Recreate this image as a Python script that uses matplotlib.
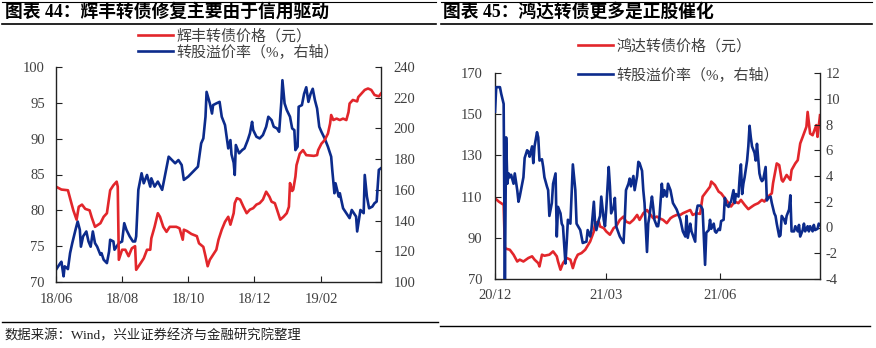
import pandas as pd
import matplotlib
matplotlib.use('Agg')
import matplotlib.pyplot as plt
import matplotlib.dates as mdates
from matplotlib.lines import Line2D

plt.rcParams['font.family'] = ['Liberation Serif', 'Noto Sans CJK SC']
plt.rcParams['axes.unicode_minus'] = False

RED = '#E2262B'
BLUE = '#0C2B8C'
GREY = '#404040'

# ---- chart 44: day offsets from 2018-06-01 ----
left_start = '2018-06-01'
left_end = '2019-03-28'
left_red_days = [0, 5, 11, 16, 19, 21, 24, 27, 31, 33, 36, 41, 44, 47, 50, 53, 56, 57, 58, 61,
                 64, 67, 70, 73, 74, 78, 81, 84, 87, 88, 91, 94, 96, 99, 102, 105, 111, 114, 117, 118,
                 121, 125, 130, 132, 136, 138, 140, 142, 145, 148, 150, 153, 156, 159, 161, 164, 165, 167, 170, 173,
                 176, 179, 182, 185, 188, 191, 194, 197, 199, 202, 204, 207, 210, 213, 215, 216, 218, 219, 221, 222,
                 225, 228, 231, 238, 241, 242, 245, 248, 251, 253, 254, 256, 259, 262, 265, 268, 270, 271, 274, 278,
                 279, 282, 285, 288, 291, 294, 298, 300]
left_red = [83.3, 82.9, 82.8, 80.0, 78.7, 80.5, 80.8, 80.2, 80.0, 79.0, 77.7, 78.2, 79.1, 79.6, 82.8, 83.5, 84.0, 83.3, 73.1, 74.5,
            74.5, 73.6, 74.7, 75.0, 71.7, 72.6, 73.3, 74.5, 74.5, 76.1, 77.7, 79.6, 79.1, 77.7, 77.0, 77.7, 77.7, 77.5, 75.9, 77.3,
            77.1, 76.7, 76.4, 75.4, 74.9, 73.6, 72.2, 73.1, 73.8, 74.5, 75.9, 77.3, 78.4, 79.1, 78.0, 79.6, 81.0, 81.7, 81.5, 80.5,
            79.6, 80.1, 80.3, 80.8, 81.0, 81.5, 82.6, 81.9, 81.2, 81.0, 80.1, 78.7, 79.1, 79.6, 80.5, 83.8, 82.7, 82.9, 84.7, 86.3,
            87.9, 88.4, 87.7, 87.6, 87.7, 88.4, 89.3, 89.8, 90.7, 92.1, 93.3, 92.6, 92.8, 92.6, 92.8, 92.6, 93.7, 94.9, 95.4, 95.2,
            95.8, 96.3, 96.8, 97.0, 96.8, 96.1, 95.9, 96.3]
left_blue_days = [0, 2, 4, 5, 7, 8, 10, 11, 13, 15, 18, 20, 22, 23, 25, 28, 30, 32, 34, 36,
                  38, 41, 42, 44, 47, 49, 50, 53, 54, 58, 61, 63, 65, 68, 71, 73, 74, 76, 79, 81,
                  84, 87, 88, 91, 94, 98, 101, 104, 107, 110, 113, 116, 118, 122, 125, 128, 131, 134, 136, 138,
                  139, 142, 144, 145, 148, 151, 153, 156, 158, 159, 161, 162, 164, 165, 166, 169, 172, 174, 177, 179,
                  181, 182, 185, 188, 191, 194, 196, 199, 201, 204, 206, 208, 209, 211, 213, 216, 218, 220, 221, 223,
                  224, 227, 229, 231, 233, 235, 237, 239, 241, 243, 245, 248, 251, 254, 255, 257, 258, 261, 262, 264,
                  265, 268, 271, 273, 275, 277, 278, 281, 284, 285, 287, 289, 292, 294, 296, 298, 300]
left_blue = [108.0, 110.2, 112.3, 113.2, 103.7, 110.2, 109.1, 108.4, 118.8, 125.3, 134.0, 139.4, 134.0, 123.0, 129.7, 132.9, 126.4, 123.0, 132.9, 125.3,
             123.0, 117.7, 118.8, 114.5, 112.3, 119.9, 127.5, 126.4, 121.0, 125.3, 126.4, 138.3, 134.0, 129.7, 126.4, 126.4, 129.7, 160.0, 170.8, 164.3,
             169.7, 162.1, 167.5, 162.1, 165.4, 160.0, 170.8, 181.6, 179.4, 177.3, 179.4, 176.2, 166.5, 168.6, 170.8, 173.0, 175.1, 190.3, 193.5, 207.6,
             223.8, 216.3, 209.7, 215.2, 216.3, 217.3, 207.6, 202.2, 192.4, 187.0, 192.4, 183.1, 177.7, 169.7, 189.2, 183.8, 186.0, 187.0, 192.4, 196.8,
             204.3, 199.0, 194.6, 193.5, 195.7, 201.1, 207.6, 205.4, 201.1, 200.0, 197.8, 217.3, 231.4, 216.3, 212.0, 207.6, 200.0, 198.9, 185.9, 188.1,
             214.1, 215.2, 222.5, 226.8, 217.3, 222.5, 225.8, 218.4, 213.0, 201.1, 197.8, 193.5, 188.1, 181.6, 173.0, 157.8, 164.3, 155.6, 157.8, 151.3,
             148.0, 144.8, 141.6, 146.9, 144.8, 142.6, 132.9, 146.9, 144.8, 169.7, 155.6, 148.0, 149.1, 151.3, 152.4, 173.0, 174.1]

# ---- chart 45: day offsets from 2020-12-01 ----
right_start = '2020-12-01'
right_end = '2021-08-21'
right_red_days = [0, 3, 5, 7, 8, 9, 12, 15, 18, 20, 23, 27, 30, 32, 35, 36, 38, 40, 44, 47,
                  50, 51, 53, 55, 58, 61, 63, 65, 67, 70, 73, 77, 80, 81, 84, 85, 88, 90, 93, 96,
                  98, 101, 104, 106, 109, 112, 115, 117, 120, 123, 125, 128, 131, 133, 136, 139, 142, 144, 147, 150,
                  152, 155, 158, 160, 163, 166, 168, 171, 174, 175, 178, 181, 183, 186, 189, 191, 194, 197, 199, 202,
                  205, 208, 210, 213, 216, 218, 221, 224, 225, 228, 230, 232, 233, 236, 239, 240, 243, 245, 247, 249,
                  252, 253, 255, 257, 260, 261, 263]
right_red = [109.2, 107.6, 106.8, 106.0, 85.0, 84.7, 84.2, 81.8, 78.5, 79.4, 78.5, 80.2, 81.0, 79.4, 77.7, 76.1, 81.8, 81.3, 81.8, 83.4,
             81.0, 78.5, 74.5, 77.7, 80.2, 79.4, 75.3, 79.4, 81.8, 82.6, 84.2, 88.2, 93.1, 97.1, 97.9, 95.5, 94.7, 93.1, 91.5, 94.7,
             95.5, 98.7, 100.3, 97.9, 97.1, 98.7, 101.1, 98.7, 101.9, 103.5, 101.9, 99.5, 100.3, 99.5, 98.7, 97.1, 99.5, 100.3, 101.1, 101.1,
             101.9, 102.7, 103.5, 101.1, 101.9, 101.6, 110.0, 112.4, 114.8, 117.3, 115.6, 112.4, 111.6, 109.2, 106.8, 105.2, 107.6, 106.8, 108.4, 106.0,
             103.9, 105.2, 106.0, 106.8, 108.4, 107.6, 110.0, 111.6, 116.5, 126.1, 125.3, 118.1, 117.3, 120.5, 118.1, 122.9, 126.1, 127.7, 135.8, 139.0,
             143.9, 151.1, 140.6, 139.8, 144.7, 139.0, 149.5]
right_blue_days = [0, 1, 4, 5, 7, 8, 9, 10, 11, 12, 13, 15, 16, 18, 19, 20, 23, 24, 26, 27,
                   28, 30, 31, 32, 34, 35, 36, 38, 39, 40, 42, 43, 44, 46, 47, 49, 50, 51, 53, 54,
                   55, 57, 58, 59, 61, 62, 63, 65, 66, 69, 71, 74, 75, 77, 78, 80, 81, 82, 84, 85,
                   86, 88, 89, 90, 92, 93, 94, 96, 97, 98, 101, 104, 105, 106, 108, 109, 110, 112, 113, 115,
                   116, 117, 119, 120, 121, 123, 124, 125, 127, 128, 129, 131, 132, 133, 135, 136, 137, 139, 140, 142,
                   143, 144, 147, 150, 152, 154, 155, 156, 158, 159, 162, 163, 164, 166, 167, 168, 170, 171, 173, 174,
                   175, 177, 178, 179, 181, 182, 183, 185, 186, 187, 189, 190, 191, 193, 194, 195, 197, 198, 199, 200,
                   201, 202, 204, 205, 206, 207, 208, 210, 211, 212, 214, 215, 216, 217, 219, 220, 221, 223, 224, 226,
                   227, 228, 230, 231, 232, 234, 235, 236, 238, 239, 240, 242, 243, 245, 246, 247, 249, 250, 251, 253,
                   254, 255, 257, 258, 259, 261, 262, 263]
right_blue = [9.0, 10.9, 10.9, 10.4, 9.6, -4.3, 7.0, 3.4, 4.2, 3.9, 4.1, 3.4, 4.2, 2.9, 2.0, 2.4, 3.9, 5.4, 6.0, 5.9,
              5.5, 6.3, 5.0, 6.3, 7.4, 7.0, 5.2, 5.3, 4.7, 3.9, 3.2, 2.9, 0.9, 1.9, 3.4, 4.2, -0.7, 1.6, 1.1, 0.3,
              0.1, -2.8, -1.2, 0.6, 0.3, 2.6, 4.9, 2.9, 0.3, -0.2, -1.2, -1.1, -0.2, -0.7, -0.2, 2.0, 0.3, -0.2, 0.6, 0.9,
              2.4, 0.6, 0.1, 1.4, 4.7, 3.2, 1.1, 1.6, 2.3, 0.1, -0.7, -1.2, 0.6, 2.9, 3.4, 3.8, 3.2, 4.0, 2.9, 4.0,
              5.1, 5.0, 4.4, 2.9, 1.9, -1.9, 0.3, 0.9, 2.4, 1.6, 0.6, 0.1, 0.1, 0.7, 3.4, 2.4, 2.9, 2.4, 3.4, 2.9,
              2.4, 1.9, 1.4, 0.6, -0.3, -0.7, 0.9, -0.8, 0.3, -0.3, -1.1, 1.2, 1.7, 1.7, 1.6, 1.4, -2.9, -0.4, -0.2, 0.6,
              -0.1, 0.3, -0.3, -0.4, -0.1, -0.2, 0.5, 0.6, 2.3, 1.8, 1.6, 1.9, 2.0, 2.9, 1.9, 2.6, 2.4, 3.9, 4.9, 2.6,
              3.4, 3.9, 5.2, 6.3, 7.9, 7.0, 6.3, 5.8, 5.2, 6.5, 4.2, 3.8, 3.6, 3.7, 4.7, 2.1, 2.3, 2.4, 1.9, 1.1,
              0.9, 0.3, -0.7, -0.6, 0.9, 0.6, 0.3, 0.9, 1.4, 2.5, -0.3, -0.3, 0.1, -0.3, 0.2, -0.7, -0.2, 0.3, -0.3, 0.1,
              -0.3, 0.1, -0.3, 0.2, -0.2, -0.1, 0.3, 0.2]

left_labels = ['辉丰转债价格（元）', '转股溢价率（%，右轴）']
right_labels = ['鸿达转债价格（元）', '转股溢价率（%，右轴）']


def to_dates(start, days):
    return pd.Timestamp(start) + pd.to_timedelta(days, unit='D')


def style(ax, ax2):
    for a in (ax, ax2):
        a.spines['top'].set_visible(False)
        for s in a.spines.values():
            s.set_color('#222222')
            s.set_linewidth(1.0)
        a.tick_params(direction='in', length=4, width=0.8, colors='#222222',
                      labelcolor=GREY, labelsize=10.5)
    ax.spines['right'].set_visible(False)
    ax2.spines['left'].set_visible(False)
    ax2.spines['bottom'].set_visible(False)


fig = plt.figure(figsize=(8.76, 3.48), dpi=100)

# left chart
ax = fig.add_axes([56 / 876, 1 - 282 / 348, 325 / 876, 215 / 348])
ax2 = ax.twinx()
l1, = ax.plot(to_dates(left_start, left_red_days), left_red, color=RED, lw=1.9)
l2, = ax2.plot(to_dates(left_start, left_blue_days), left_blue, color=BLUE, lw=1.9)
ax.set_zorder(ax2.get_zorder() + 1)
ax.patch.set_visible(False)
ax.set_ylim(70, 100)
ax.set_yticks(range(70, 101, 5))
ax2.set_ylim(100, 240)
ax2.set_yticks(range(100, 241, 20))
ax.set_xlim(pd.Timestamp(left_start), pd.Timestamp(left_end))
ax.xaxis.set_major_locator(mdates.MonthLocator(bymonth=[2, 6, 8, 10, 12]))
ax.xaxis.set_major_formatter(mdates.DateFormatter('%y/%m'))
style(ax, ax2)
ax.tick_params(axis='y', pad=8)
ax.tick_params(axis='x', pad=8)
ax2.tick_params(axis='y', pad=9)
fig.legend([l1, l2], left_labels, loc='upper left', bbox_to_anchor=(138 / 876, 1 - 29 / 348),
           frameon=False, fontsize=10.8, handlelength=2.3, handletextpad=0.25,
           labelspacing=0.08, borderpad=0, borderaxespad=0, labelcolor=GREY)

# right chart
bx = fig.add_axes([495 / 876, 1 - 279 / 348, 325 / 876, 206 / 348])
bx2 = bx.twinx()
r1, = bx.plot(to_dates(right_start, right_red_days), right_red, color=RED, lw=1.9)
r2, = bx2.plot(to_dates(right_start, right_blue_days), right_blue, color=BLUE, lw=1.9)
bx.set_ylim(70, 170)
bx.set_yticks(range(70, 171, 20))
bx2.set_ylim(-4, 12)
bx2.set_yticks(range(-4, 13, 2))
bx.set_xlim(pd.Timestamp(right_start), pd.Timestamp(right_end))
bx.xaxis.set_major_locator(mdates.MonthLocator(bymonth=[3, 6, 12]))
bx.xaxis.set_major_formatter(mdates.DateFormatter('%y/%m'))
style(bx, bx2)
bx.tick_params(axis='y', pad=9)
bx.tick_params(axis='x', pad=7)
bx2.tick_params(axis='y', pad=4)
fig.legend([r1, r2], right_labels, loc='upper left', bbox_to_anchor=(578 / 876, 1 - 39 / 348),
           frameon=False, fontsize=10.8, handlelength=2.3, handletextpad=0.25,
           labelspacing=0.95, borderpad=0, borderaxespad=0, labelcolor=GREY)

# titles, rules and source
fig.text(5 / 876, 1 - 12 / 348, '图表 44：辉丰转债修复主要由于信用驱动', fontsize=12.8,
         fontweight='bold', va='center', ha='left')
fig.text(443 / 876, 1 - 12 / 348, '图表 45：鸿达转债更多是正股催化', fontsize=12.8,
         fontweight='bold', va='center', ha='left')
for x0, x1 in [(2, 436), (441, 872)]:
    fig.add_artist(Line2D([x0 / 876, x1 / 876], [1 - 1.5 / 348] * 2, color='black', lw=0.8))
    fig.add_artist(Line2D([x0 / 876, x1 / 876], [1 - 24 / 348] * 2, color='black', lw=1.2))
fig.add_artist(Line2D([2 / 876, 438 / 876], [1 - 322 / 348] * 2, color='black', lw=1.0))
fig.add_artist(Line2D([440 / 876, 870 / 876], [1 - 326 / 348] * 2, color='black', lw=1.0))
fig.text(5 / 876, 1 - 336 / 348, '数据来源：Wind，兴业证券经济与金融研究院整理', fontsize=9.6,
         va='center', ha='left', color='#222222')

fig.savefig('out.png', dpi=100)
